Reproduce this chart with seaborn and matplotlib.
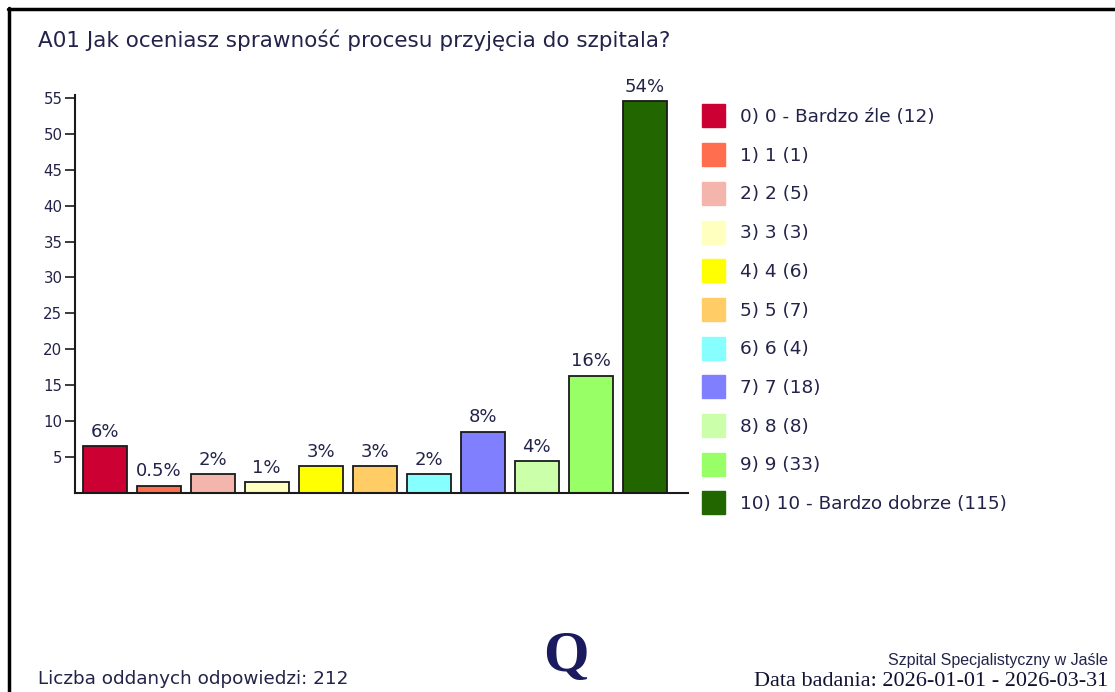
import matplotlib
matplotlib.use("Agg")
import matplotlib.pyplot as plt
import seaborn as sns
import pandas as pd
from matplotlib.patches import Patch
from matplotlib.lines import Line2D

sns.set_theme(style="white")
plt.rcParams['font.family'] = ['DejaVu Sans']

# data (bar heights, in %)
answers = ["0", "1", "2", "3", "4", "5", "6", "7", "8", "9", "10"]
answer_names = ["0 - Bardzo źle", "1", "2", "3", "4", "5", "6", "7", "8", "9", "10 - Bardzo dobrze"]
counts = [12, 1, 5, 3, 6, 7, 4, 18, 8, 33, 115]
bar_values = [6.5, 1.0, 2.6, 1.5, 3.7, 3.7, 2.6, 8.5, 4.4, 16.3, 54.5]
pct_labels = ["6%", "0.5%", "2%", "1%", "3%", "3%", "2%", "8%", "4%", "16%", "54%"]
colors = ["#CC0033", "#FF6F4F", "#F4B6AC", "#FFFFC0", "#FFFF00", "#FFCC66",
          "#88FFFF", "#8080FF", "#CCFFAA", "#99FF66", "#226600"]
y_ticks = [5, 10, 15, 20, 25, 30, 35, 40, 45, 50, 55]
total = 212

title = "A01 Jak oceniasz sprawność procesu przyjęcia do szpitala?"
text_col = "#23234a"

df = pd.DataFrame({"answer": answers, "pct": bar_values})

fig = plt.figure(figsize=(11.15, 6.92), dpi=100)
ax = fig.add_axes([75 / 1115, 1 - 493 / 692, (688 - 75) / 1115, (493 - 95) / 692])

sns.barplot(data=df, x="answer", y="pct", hue="answer", palette=colors, order=answers,
            hue_order=answers, legend=False, width=0.81, edgecolor="#1a1a1a",
            linewidth=1.3, saturation=1, ax=ax)

for cont, lab in zip(ax.containers, pct_labels):
    ax.bar_label(cont, labels=[lab], padding=4, fontsize=13, color=text_col)

ax.set_xlim(-0.55, 10.8)
ax.set_ylim(0, 55.4)
ax.set_yticks(y_ticks)
ax.set_yticklabels([str(t) for t in y_ticks], fontsize=10.8, color=text_col)
ax.set_xticks([])
ax.set_xlabel("")
ax.set_ylabel("")
ax.tick_params(axis="y", left=True, length=7, width=1.2, color="#1a1a1a", pad=2)
for s in ["top", "right"]:
    ax.spines[s].set_visible(False)
for s in ["left", "bottom"]:
    ax.spines[s].set_color("#1a1a1a")
    ax.spines[s].set_linewidth(1.5)

# legend
handles = [Patch(facecolor=c, edgecolor=c) for c in colors]
labels = [f"{a}) {n} ({c})" for a, n, c in zip(answers, answer_names, counts)]
fig.legend(handles, labels, loc="upper left", bbox_to_anchor=(702 / 1115, 1 - 104.5 / 692),
           frameon=False, fontsize=13.3, handlelength=1.245, handleheight=1.538,
           labelspacing=0.85, handletextpad=0.81, borderpad=0, borderaxespad=0,
           labelcolor=text_col)

fig.text(38 / 1115, 1 - 40 / 692, title, fontsize=15.5, color=text_col, va="center")
fig.text(38 / 1115, 1 - 679 / 692, f"Liczba oddanych odpowiedzi: {total}", fontsize=13.2,
         color=text_col, va="center")
fig.text(1108 / 1115, 1 - 660 / 692, "Szpital Specjalistyczny w Jaśle", fontsize=11.5,
         family=["Liberation Sans Narrow", "Liberation Sans", "DejaVu Sans"],
         color=text_col, ha="right", va="center")
fig.text(1108 / 1115, 1 - 681 / 692, "Data badania: 2026-01-01 - 2026-03-31", fontsize=16,
         family=["Liberation Serif", "DejaVu Serif"], color="#111133", ha="right", va="center")
fig.text(566 / 1115, 1 - 657 / 692, "Q", fontsize=42, family=["Liberation Serif", "DejaVu Serif"],
         color="#1a1a5e", ha="center", va="center", fontweight="bold")

# frame lines
fig.add_artist(Line2D([8 / 1115, 1], [1 - 9 / 692, 1 - 9 / 692], transform=fig.transFigure,
                      color="black", linewidth=2.5))
fig.add_artist(Line2D([9 / 1115, 9 / 1115], [0, 1 - 8 / 692], transform=fig.transFigure,
                      color="black", linewidth=2.5))

fig.savefig("out.png", dpi=100, facecolor="white")
